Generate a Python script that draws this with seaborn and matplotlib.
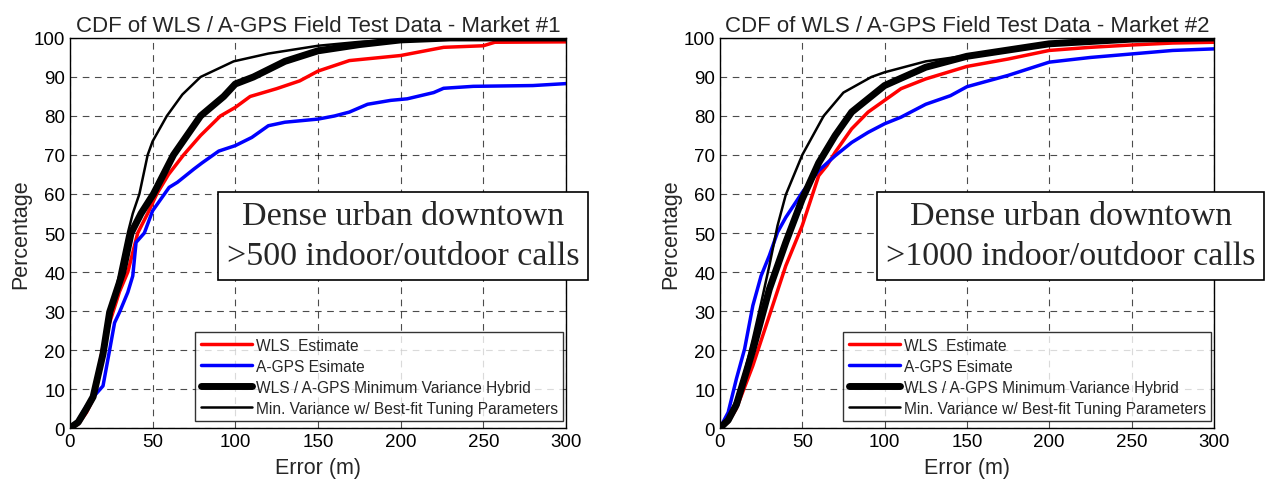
import numpy as np
import pandas as pd
import matplotlib.pyplot as plt
import seaborn as sns

# Values (error in metres, percentage)
# Market #1
m1_wls_x = [0, 5, 10, 14, 20, 24, 30, 35, 41, 47, 52.5, 59.6, 68.7, 79, 91, 100, 109, 125, 139, 150, 169, 200, 226, 250, 257, 300]
m1_wls_y = [0, 1, 4, 7.4, 21, 27, 35, 40, 50, 55, 60, 65, 70, 75, 80, 82.2, 85, 87, 89, 91.5, 94.2, 95.5, 97.6, 98, 98.9, 99]
m1_agps_x = [0, 5, 10, 14, 20, 24, 27, 30, 35, 38, 40, 45, 50, 55, 60, 65, 70, 75, 80, 90, 100, 110, 120, 130, 150, 160, 169, 180, 194, 204, 220, 226, 244, 280, 300]
m1_agps_y = [0, 2, 5.7, 7.9, 10.8, 20, 27, 29.7, 34.8, 39, 47.6, 50, 55.7, 58.7, 61.7, 63, 64.7, 66.4, 68, 71, 72.4, 74.5, 77.5, 78.4, 79.2, 80, 81, 83, 84, 84.4, 86, 87.1, 87.6, 87.8, 88.3]
m1_hyb_x = [0, 5, 10, 14, 20, 24, 32, 37, 43, 50.5, 62.6, 79, 93, 100, 111, 130, 150, 175, 200, 230, 300]
m1_hyb_y = [0, 1.5, 5, 8, 19, 29.7, 40, 50, 55, 60, 70, 80, 85, 88.2, 90, 94, 96.7, 98.3, 99.5, 100, 100]
m1_fit_x = [0, 5, 10, 14, 20, 24, 30, 35, 38, 42, 47, 50, 58.6, 68, 79, 99, 120, 150, 175, 200, 300]
m1_fit_y = [0, 1.5, 5, 8.3, 18, 27, 40, 50, 55, 60, 70, 73.5, 80, 85.5, 90, 94, 96, 98, 99, 99.6, 100]

# Market #2
m2_wls_x = [0, 5, 10, 20, 30, 40, 50, 60, 65, 70, 80, 90, 100, 110, 125, 150, 175, 200, 225, 250, 275, 300]
m2_wls_y = [0, 1.5, 5, 16, 28.8, 41.6, 51.9, 64.7, 67.3, 70.7, 76.7, 81, 84, 87, 89.5, 92.7, 94.6, 96.8, 97.6, 98.2, 98.7, 98.9]
m2_agps_x = [0, 5, 10, 15, 20, 25, 30, 35, 40, 50, 60, 70, 80, 90, 100, 110, 125, 140, 150, 175, 200, 225, 250, 275, 300]
m2_agps_y = [0, 4, 12.6, 20.3, 31.4, 39, 44.2, 50.2, 54, 60.4, 66, 69.8, 73.2, 75.8, 78, 79.7, 83, 85.2, 87.5, 90.4, 93.8, 95, 95.9, 96.8, 97.2]
m2_hyb_x = [0, 5, 10, 20, 30, 40, 50, 60, 70, 80, 90, 100, 125, 150, 200, 250, 300]
m2_hyb_y = [0, 2, 6, 20, 35.6, 47.6, 58.7, 68, 75, 81, 84.4, 87.8, 92.5, 95.3, 98.5, 99.7, 100]
m2_fit_x = [0, 5, 10, 15, 20, 25, 30, 35, 40, 50, 63, 75, 92, 100, 125, 150, 200, 250, 300]
m2_fit_y = [0, 2.3, 7.4, 14.3, 22.8, 32, 41.6, 51.9, 59.8, 70, 80, 86, 90, 91.2, 94, 95.5, 98.5, 99.7, 100]

series_names = ['WLS  Estimate', 'A-GPS Esimate',
                'WLS / A-GPS Minimum Variance Hybrid',
                'Min. Variance w/ Best-fit Tuning Parameters']
titles = ['CDF of WLS / A-GPS Field Test Data - Market #1',
          'CDF of WLS / A-GPS Field Test Data - Market #2']
box_texts = ['Dense urban downtown\n>500 indoor/outdoor calls',
             'Dense urban downtown\n>1000 indoor/outdoor calls']

markets = [
    [(m1_wls_x, m1_wls_y), (m1_agps_x, m1_agps_y), (m1_hyb_x, m1_hyb_y), (m1_fit_x, m1_fit_y)],
    [(m2_wls_x, m2_wls_y), (m2_agps_x, m2_agps_y), (m2_hyb_x, m2_hyb_y), (m2_fit_x, m2_fit_y)],
]

colors = ['#ff0000', '#0000ff', 'black', 'black']
widths = [2.5, 2.5, 5, 1.8]

sns.set_style('white')
plt.rcParams['font.family'] = ['Liberation Sans', 'DejaVu Sans']

fig = plt.figure(figsize=(12.81, 4.81), dpi=100)
ax_left = fig.add_axes([0.0546, 0.108, 0.3872, 0.811])
ax_right = fig.add_axes([0.562, 0.108, 0.3856, 0.811])
box_x = [0.672, 0.71]

for i, ax in enumerate([ax_left, ax_right]):
    frames = []
    for name, (xs, ys) in zip(series_names, markets[i]):
        frames.append(pd.DataFrame({'Error': xs, 'Pct': ys, 'Series': name}))
    df = pd.concat(frames, ignore_index=True)
    sns.lineplot(data=df, x='Error', y='Pct', hue='Series', size='Series',
                 palette=dict(zip(series_names, colors)),
                 sizes=dict(zip(series_names, widths)),
                 hue_order=series_names, size_order=series_names,
                 estimator=None, sort=False, ax=ax)

    ax.set_xlim(0, 300)
    ax.set_ylim(0, 100)
    ax.set_xticks(np.arange(0, 301, 50))
    ax.set_yticks(np.arange(0, 101, 10))
    ax.tick_params(labelsize=13.5, direction='in', length=4, colors='black')
    ax.grid(True, color='black', linestyle=(0, (6, 5)), linewidth=0.8, alpha=0.7)
    for sp in ax.spines.values():
        sp.set_color('black')
        sp.set_linewidth(1.0)
    ax.set_title(titles[i], fontsize=16, pad=5)
    ax.set_xlabel('Error (m)', fontsize=15.5, labelpad=5)
    ax.set_ylabel('Percentage', fontsize=15.5, labelpad=2)

    leg = ax.legend(loc='lower right', bbox_to_anchor=(0.995, 0.018),
                    fontsize=11.2, frameon=True, fancybox=False,
                    handlelength=3.3, handletextpad=0.25, labelspacing=0.38,
                    borderpad=0.35, borderaxespad=0)
    leg.get_frame().set_edgecolor('black')
    leg.get_frame().set_linewidth(1.0)
    for h, w, c in zip(leg.get_lines(), widths, colors):
        h.set_linewidth(w)
        h.set_color(c)

    ax.text(box_x[i], 0.492, box_texts[i], transform=ax.transAxes,
            ha='center', va='center', fontsize=24.5, family='Liberation Serif',
            linespacing=1.4, clip_on=False, zorder=10,
            bbox=dict(boxstyle='square,pad=0.25', facecolor='white',
                      edgecolor='black', linewidth=1.2))

fig.savefig('out.png', dpi=100)
